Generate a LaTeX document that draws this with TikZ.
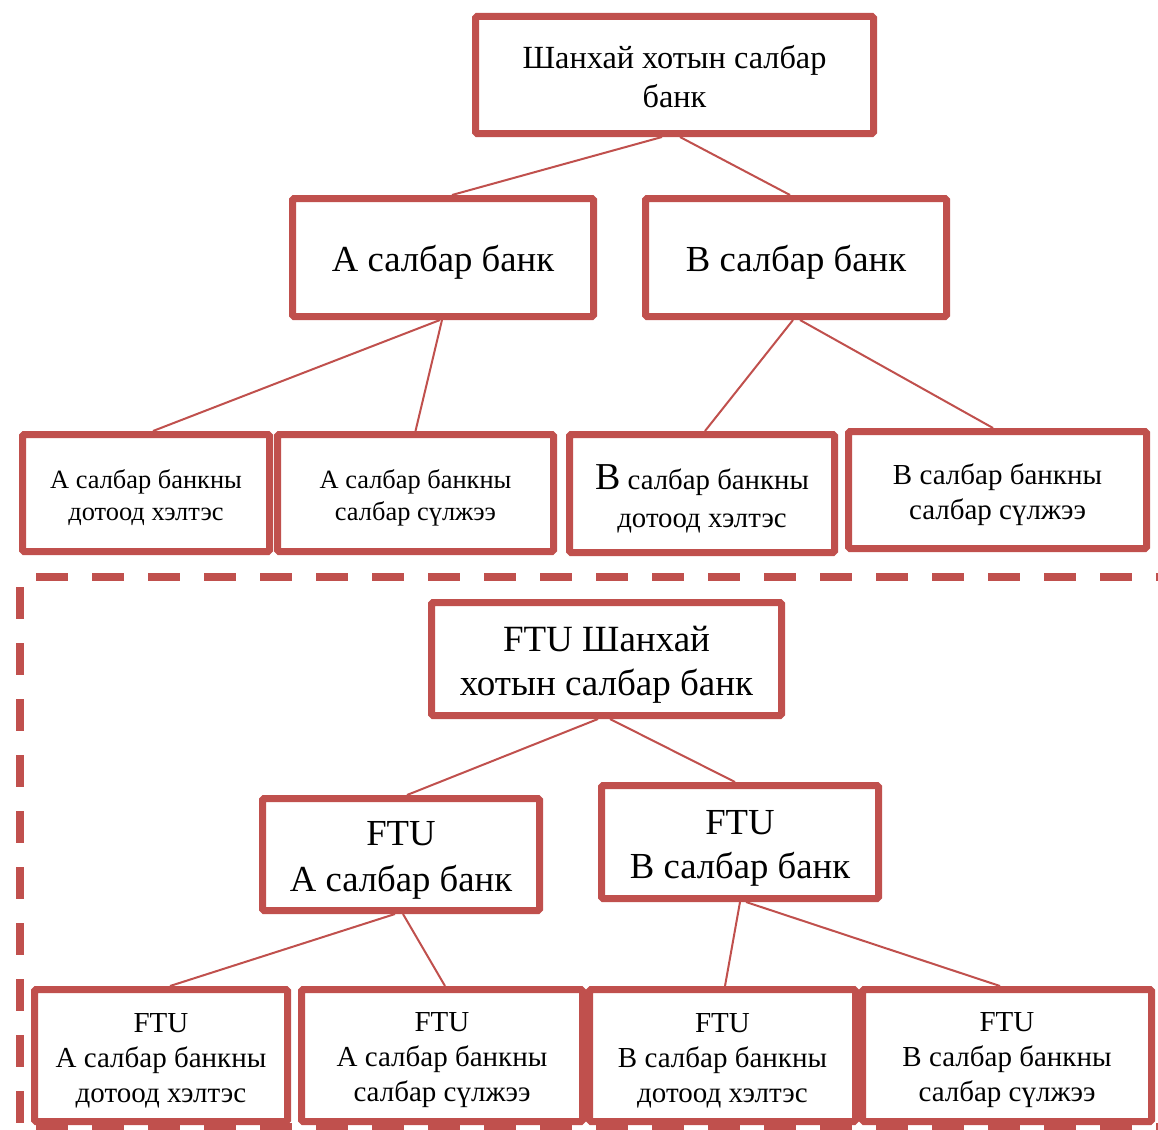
\documentclass[tikz,border=0pt]{standalone}
\usepackage{fontspec}
\setmainfont{Liberation Serif}
\usetikzlibrary{calc}
\definecolor{ored}{HTML}{C0504D}
\tikzset{
  box/.style={draw=ored, line width=7pt, fill=white, rectangle, rounded corners=1.5pt, inner sep=0pt},
  txt/.style={inner sep=0pt, align=center, text=black},
  conn/.style={draw=ored, line width=2pt},
  border/.style={draw=ored, line width=8pt, dash pattern=on 32pt off 24pt}
}
\newcommand{\fs}[2]{\fontsize{#1}{#2}\selectfont}
\begin{document}
\begin{tikzpicture}[x=1pt,y=-1pt]
\useasboundingbox (0,0) rectangle (1158,1129);
% dashed frame
\draw[border] (36,577) -- (1160,577);
\draw[border] (20,587) -- (20,1129);
\draw[border] (36,1127) -- (1160,1127);
% upper tree
\node[box, minimum width=398pt, minimum height=117pt] (top) at (674.5,75) {};
\node[txt, font=\fs{32.3}{39}] (topt) at ($(top)+(0,2)$) {Шанхай хотын салбар\\банк};
\node[box, minimum width=301pt, minimum height=118pt] (A) at (443,257.5) {};
\node[txt, font=\fs{36.7}{42}] (At) at ($(A)+(0,5)$) {А салбар банк};
\node[box, minimum width=301pt, minimum height=118pt] (B) at (796,257.5) {};
\node[txt, font=\fs{36.7}{42}] (Bt) at ($(B)+(0,5)$) {В салбар банк};
\node[box, minimum width=247pt, minimum height=117pt] (A1) at (146,493) {};
\node[txt, font=\fs{26.4}{32}] (A1t) at ($(A1)+(0,5)$) {А салбар банкны\\дотоод хэлтэс};
\node[box, minimum width=276pt, minimum height=117pt] (A2) at (415.5,493) {};
\node[txt, font=\fs{26.4}{32}] (A2t) at ($(A2)+(0,5)$) {А салбар банкны\\салбар сүлжээ};
\node[box, minimum width=265pt, minimum height=118pt] (B1) at (702,493.5) {};
\node[txt, font=\fs{28.8}{38}] (B1t) at ($(B1)+(0,5.5)$) {{\fs{38}{38}В} салбар банкны\\дотоод хэлтэс};
\node[box, minimum width=298pt, minimum height=117pt] (B2) at (997.5,490) {};
\node[txt, font=\fs{29}{35}] (B2t) at ($(B2)+(0,5)$) {В салбар банкны\\салбар сүлжээ};
% lower tree
\node[box, minimum width=350pt, minimum height=113pt] (FT) at (606.5,659) {};
\node[txt, font=\fs{37}{44}] (FTt) at ($(FT)+(0,6)$) {FTU Шанхай\\хотын салбар банк};
\node[box, minimum width=277pt, minimum height=112pt] (FA) at (401,854.5) {};
\node[txt, font=\fs{36.7}{46}] (FAt) at ($(FA)+(0,6)$) {FTU\\А салбар банк};
\node[box, minimum width=277pt, minimum height=113pt] (FB) at (740,842) {};
\node[txt, font=\fs{36.7}{44}] (FBt) at ($(FB)+(0,6)$) {FTU\\В салбар банк};
\node[box, minimum width=253pt, minimum height=132pt] (FA1) at (161,1055.5) {};
\node[txt, font=\fs{29}{35}] (FA1t) at ($(FA1)+(0,5)$) {FTU\\А салбар банкны\\дотоод хэлтэс};
\node[box, minimum width=281pt, minimum height=132pt] (FA2) at (442,1055.5) {};
\node[txt, font=\fs{29}{35}] (FA2t) at ($(FA2)+(0,5)$) {FTU\\А салбар банкны\\салбар сүлжээ};
\node[box, minimum width=266pt, minimum height=132pt] (FB1) at (722.5,1055.5) {};
\node[txt, font=\fs{29}{35}] (FB1t) at ($(FB1)+(0,5)$) {FTU\\В салбар банкны\\дотоод хэлтэс};
\node[box, minimum width=289pt, minimum height=132pt] (FB2) at (1007,1055.5) {};
\node[txt, font=\fs{29}{35}] (FB2t) at ($(FB2)+(0,5)$) {FTU\\В салбар банкны\\салбар сүлжээ};
% connectors
\draw[conn] ($(top.south)+(-12.5,0)$) -- ($(A.north)+(9,0)$);
\draw[conn] ($(top.south)+(5.5,0)$) -- ($(B.north)+(-6,0)$);
\draw[conn] ($(A.south)+(-3,0)$) -- ($(A1.north)+(7,0)$);
\draw[conn] ($(A.south)+(-1,0)$) -- ($(A2.north)+(0,0)$);
\draw[conn] ($(B.south)+(-3,0)$) -- ($(B1.north)+(3,0)$);
\draw[conn] ($(B.south)+(4,0)$) -- ($(B2.north)+(-4.5,0)$);
\draw[conn] ($(FT.south)+(-8.5,0)$) -- ($(FA.north)+(6,0)$);
\draw[conn] ($(FT.south)+(3.5,0)$) -- ($(FB.north)+(-5,0)$);
\draw[conn] ($(FA.south)+(-6,0)$) -- ($(FA1.north)+(9,0)$);
\draw[conn] ($(FA.south)+(2,0)$) -- ($(FA2.north)+(3,0)$);
\draw[conn] ($(FB.south)+(0,0)$) -- ($(FB1.north)+(2.5,0)$);
\draw[conn] ($(FB.south)+(6,0)$) -- ($(FB2.north)+(-7,0)$);
\end{tikzpicture}
\end{document}
